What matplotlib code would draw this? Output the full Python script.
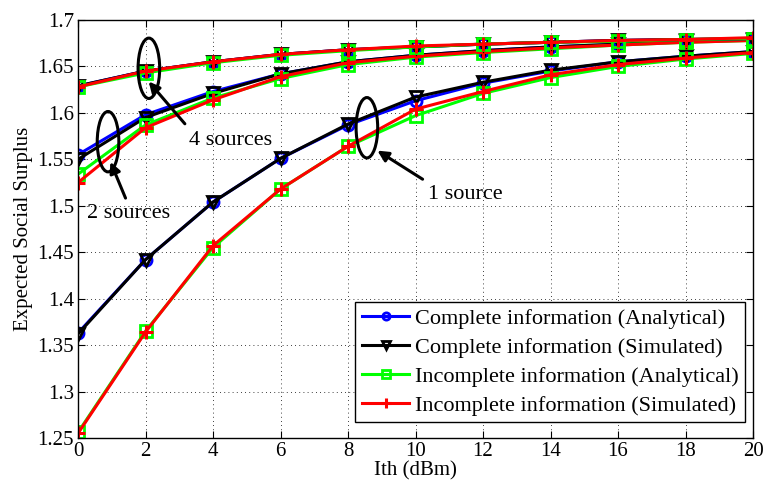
import matplotlib
matplotlib.use("Agg")
import matplotlib.pyplot as plt
from matplotlib.patches import Ellipse

plt.rcParams["font.family"] = ["Liberation Serif", "DejaVu Serif"]
plt.rcParams["mathtext.fontset"] = "stix"

ith = [0, 2, 4, 6, 8, 10, 12, 14, 16, 18, 20]

# 1 source
one_comp_ana = [1.363, 1.442, 1.504, 1.551, 1.587, 1.613, 1.632, 1.645, 1.655, 1.661, 1.666]
one_comp_sim = [1.362, 1.442, 1.504, 1.551, 1.588, 1.617, 1.633, 1.646, 1.655, 1.661, 1.666]
one_inc_ana = [1.256, 1.365, 1.455, 1.518, 1.564, 1.597, 1.621, 1.638, 1.650, 1.658, 1.664]
one_inc_sim = [1.255, 1.364, 1.457, 1.518, 1.564, 1.604, 1.623, 1.641, 1.652, 1.659, 1.665]

# 2 sources
two_comp_ana = [1.555, 1.598, 1.623, 1.642, 1.655, 1.662, 1.667, 1.671, 1.674, 1.677, 1.679]
two_comp_sim = [1.550, 1.595, 1.621, 1.642, 1.655, 1.662, 1.667, 1.671, 1.674, 1.677, 1.679]
two_inc_ana = [1.534, 1.587, 1.616, 1.637, 1.652, 1.660, 1.665, 1.669, 1.673, 1.676, 1.678]
two_inc_sim = [1.525, 1.584, 1.614, 1.639, 1.654, 1.661, 1.666, 1.670, 1.673, 1.676, 1.678]

# 4 sources
four_comp_ana = [1.629, 1.645, 1.655, 1.663, 1.668, 1.671, 1.674, 1.676, 1.678, 1.679, 1.680]
four_comp_sim = [1.629, 1.645, 1.655, 1.663, 1.668, 1.671, 1.674, 1.676, 1.678, 1.679, 1.680]
four_inc_ana = [1.628, 1.643, 1.654, 1.662, 1.667, 1.671, 1.674, 1.676, 1.677, 1.679, 1.680]
four_inc_sim = [1.628, 1.645, 1.655, 1.663, 1.668, 1.672, 1.674, 1.676, 1.678, 1.679, 1.681]

labels = [
    "Complete information (Analytical)",
    "Complete information (Simulated)",
    "Incomplete information (Analytical)",
    "Incomplete information (Simulated)",
]
styles = [
    dict(color="#0000ff", marker="o", mfc="none", ms=8, mew=2),
    dict(color="black", marker="v", mfc="none", ms=9, mew=2),
    dict(color="#00ff00", marker="s", mfc="none", ms=8, mew=2),
    dict(color="#ff0000", marker="+", ms=10, mew=2.2),
]

groups = [
    [one_comp_ana, one_comp_sim, one_inc_ana, one_inc_sim],
    [two_comp_ana, two_comp_sim, two_inc_ana, two_inc_sim],
    [four_comp_ana, four_comp_sim, four_inc_ana, four_inc_sim],
]

fig = plt.figure(figsize=(7.67, 4.91), dpi=100)
ax = fig.add_axes([78 / 767, 53 / 491, 675 / 767, 418 / 491])

for g, group in enumerate(groups):
    for i, (vals, st) in enumerate(zip(group, styles)):
        ax.plot(ith, vals, lw=2.2, label=labels[i] if g == 0 else None, **st)

ax.set_xlim(0, 20)
ax.set_ylim(1.25, 1.7)
ax.set_xticks(range(0, 21, 2))
ax.set_yticks([1.25, 1.3, 1.35, 1.4, 1.45, 1.5, 1.55, 1.6, 1.65, 1.7])
ax.set_yticklabels(["1.25", "1.3", "1.35", "1.4", "1.45", "1.5", "1.55", "1.6", "1.65", "1.7"])
ax.tick_params(direction="in", top=True, right=True, labelsize=15, length=5, pad=3)
ax.grid(True, linestyle=(0, (1, 4)), color="black", lw=0.6)
ax.set_xlabel("Ith (dBm)", fontsize=15, labelpad=0)
ax.set_ylabel("Expected Social Surplus", fontsize=15, labelpad=3)
for sp in ax.spines.values():
    sp.set_linewidth(1)

# annotations: ellipses round each group, arrows from labels
ellipses = [(2.10, 1.648), (0.89, 1.569), (8.56, 1.584)]
for cx, cy in ellipses:
    ax.add_patch(Ellipse((cx, cy), 0.64, 0.065, fill=False, ec="black", lw=2.2, zorder=5))

arrow = dict(arrowstyle="-|>", color="black", lw=2.2, mutation_scale=16)
ax.annotate("", xy=(2.04, 1.636), xytext=(3.22, 1.586), arrowprops=arrow)
ax.annotate("", xy=(0.93, 1.550), xytext=(1.44, 1.5055), arrowprops=arrow)
ax.annotate("", xy=(8.80, 1.561), xytext=(10.28, 1.527), arrowprops=arrow)
ax.text(4.53, 1.5705, "4 sources", fontsize=16, ha="center", va="center")
ax.text(1.51, 1.4912, "2 sources", fontsize=16, ha="center", va="center")
ax.text(11.47, 1.5126, "1 source", fontsize=16, ha="center", va="center")

leg = ax.legend(loc="lower right", bbox_to_anchor=(667 / 675, 16 / 418), borderaxespad=0,
                fontsize=16, handlelength=2.15, labelspacing=0.38, handletextpad=0.25,
                fancybox=False, framealpha=1, edgecolor="black", borderpad=0.28,
                markerscale=0.65)
leg.get_frame().set_linewidth(1)

fig.savefig("out.png", dpi=100)
